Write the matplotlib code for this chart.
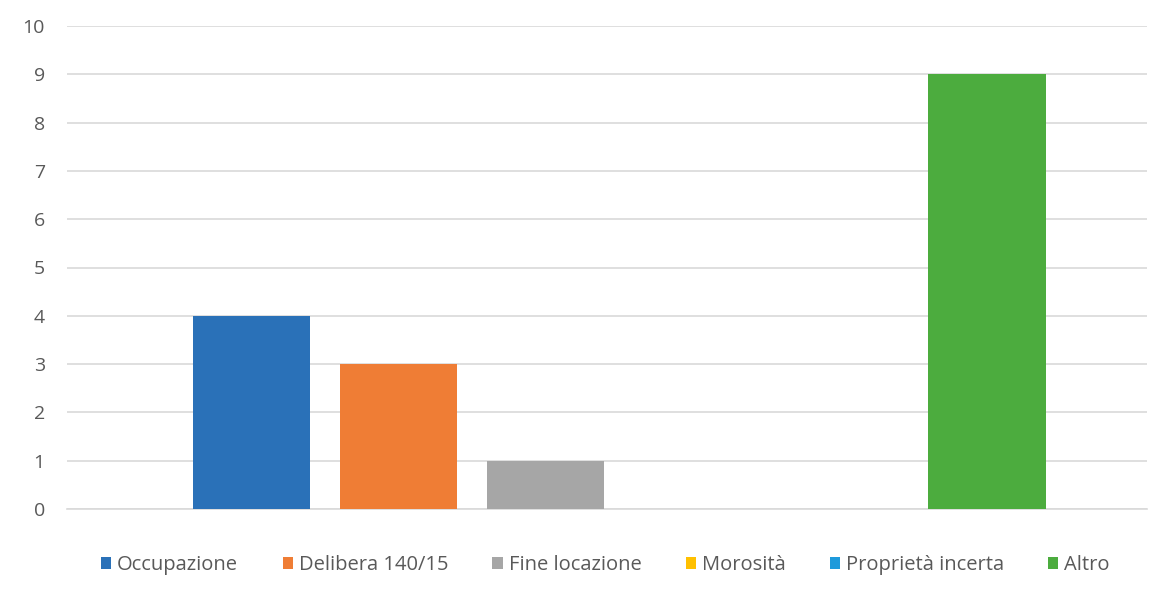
import matplotlib.pyplot as plt

plt.rcParams['font.family'] = ['Open Sans', 'DejaVu Sans']

# Categorie e valori
categorie = ['Occupazione', 'Delibera 140/15', 'Fine locazione', 'Morosità',
             'Proprietà incerta', 'Altro']
valori = [4, 3, 1, 0, 0, 9]
colori = ['#2A71B8', '#EF7D35', '#A6A6A6', '#FFC000', '#1E9ADB', '#4CAC3E']
yticks = list(range(0, 11))

fig = plt.figure(figsize=(11.49, 5.94), dpi=100)
ax = fig.add_axes([67 / 1149, 85 / 594, 1080 / 1149, 483 / 594])

for i, (nome, v, c) in enumerate(zip(categorie, valori, colori)):
    ax.bar(i, v, width=0.8, color=c, label=nome, zorder=3)

ax.set_ylim(0, 10)
ax.set_xlim(-1.255, 6.09)
ax.set_yticks(yticks)
ax.set_xticks([])
ax.grid(axis='y', color='#D9D9D9', linewidth=1.2, zorder=0)
for s in ['top', 'right', 'left']:
    ax.spines[s].set_visible(False)
ax.spines['bottom'].set_color('#D9D9D9')
ax.spines['bottom'].set_linewidth(1.2)
ax.tick_params(axis='y', length=0, pad=16, labelsize=14, labelcolor='#595959')

leg = fig.legend(loc='center', bbox_to_anchor=(0.527, 29 / 594), ncol=6,
                 frameon=False, fontsize=14.5, handlelength=0.5,
                 handleheight=0.5, handletextpad=0.3, columnspacing=2.2)
for t in leg.get_texts():
    t.set_color('#595959')

fig.savefig('out.png', dpi=100)
